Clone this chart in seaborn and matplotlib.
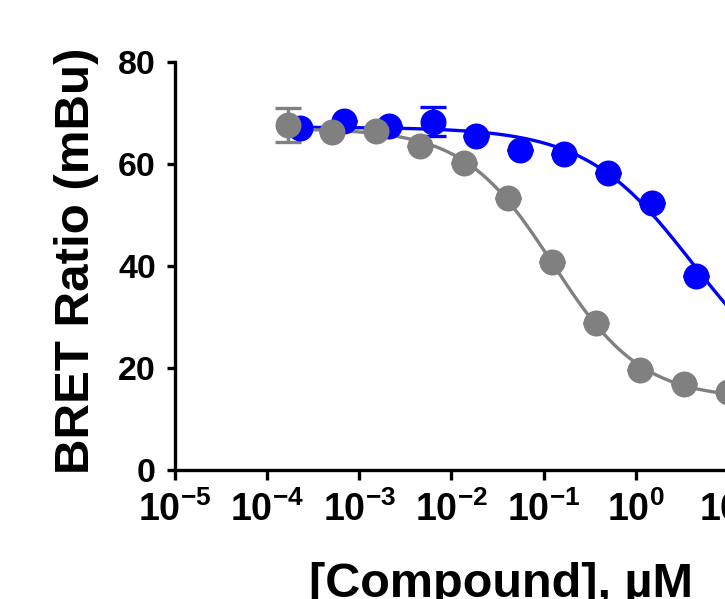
import numpy as np
import pandas as pd
import seaborn as sns
import matplotlib.pyplot as plt
from matplotlib.ticker import NullLocator


# (concentration in uM, BRET ratio in mBu)
gray_conc = [1.7e-4, 5.1e-4, 1.52e-3, 4.57e-3, 0.0137, 0.0412, 0.123, 0.370, 1.11, 3.33, 10.0]
gray_bret = [67.6, 66.2, 66.5, 63.5, 60.1, 53.3, 40.7, 28.8, 19.6, 16.8, 15.2]
gray_err = [3.3, 0, 0, 0, 0, 0, 0, 0, 0, 0, 0]

blue_conc = [2.3e-4, 6.9e-4, 2.08e-3, 6.24e-3, 0.0187, 0.056, 0.168, 0.505, 1.52, 4.55]
blue_bret = [67.0, 68.5, 67.5, 68.3, 65.4, 62.7, 62.0, 58.2, 52.3, 38.1]
blue_err = [0, 0, 0, 2.9, 0, 0, 0, 0, 0, 0]

x_exponents = [-5, -4, -3, -2, -1, 0, 1, 2]
x_ticklabels = [r"$\mathbf{10^{%d}}$" % e for e in x_exponents]
y_ticks = [0, 20, 40, 60, 80]

BLUE = "#0000FF"
GRAY = "#808080"


def fit_dose_response(conc, resp, bottom=None):
    # 4PL fit: grid over logIC50 / hill, top & bottom solved linearly
    logx = np.log10(np.asarray(conc))
    y = np.asarray(resp)
    cs = np.arange(-3.0, 3.0, 0.005)
    hs = np.arange(0.3, 3.0, 0.01)
    C, H = np.meshgrid(cs, hs)
    s = 1.0 / (1.0 + 10 ** (H[..., None] * (logx - C[..., None])))
    if bottom is None:
        u = 1 - s
        suu, svv, suv = (u * u).sum(-1), (s * s).sum(-1), (u * s).sum(-1)
        suy, svy = (u * y).sum(-1), (s * y).sum(-1)
        det = suu * svv - suv**2
        b = (svv * suy - suv * svy) / det
        t = (suu * svy - suv * suy) / det
    else:
        b = np.full(C.shape, bottom)
        t = b + ((y - bottom) * s).sum(-1) / (s * s).sum(-1)
    pred = b[..., None] + (t - b)[..., None] * s
    sse = ((pred - y) ** 2).sum(-1)
    i = np.unravel_index(np.argmin(sse), sse.shape)
    return {"bottom": b[i], "top": t[i], "logec50": C[i], "hill": H[i]}


def curve_frame(conc, p, x_end=2.0):
    xs = np.linspace(np.log10(min(conc)), x_end, 300)
    ys = p["bottom"] + (p["top"] - p["bottom"]) / (
        1 + 10 ** (p["hill"] * (xs - p["logec50"]))
    )
    return pd.DataFrame({"conc": 10**xs, "bret": ys})


gray_fit = fit_dose_response(gray_conc, gray_bret)
blue_fit = fit_dose_response(blue_conc, blue_bret, bottom=gray_fit["bottom"])

sns.set_style("ticks")
plt.rcParams["font.family"] = ["Liberation Sans", "DejaVu Sans"]
plt.rcParams["font.weight"] = "bold"
plt.rcParams["mathtext.fontset"] = "custom"
plt.rcParams["mathtext.rm"] = "Liberation Sans:bold"
plt.rcParams["mathtext.bf"] = "Liberation Sans:bold"
for key in ["text.color", "axes.labelcolor", "axes.edgecolor",
            "xtick.color", "ytick.color"]:
    plt.rcParams[key] = "black"

fig = plt.figure(figsize=(7.25, 5.99), dpi=100)
ax = fig.add_axes([175 / 725, 129 / 599, 645 / 725, 408 / 599])
ax.set_xscale("log")

for conc, bret, err, fit, col in [
    (blue_conc, blue_bret, blue_err, blue_fit, BLUE),
    (gray_conc, gray_bret, gray_err, gray_fit, GRAY),
]:
    df = curve_frame(conc, fit)
    sns.lineplot(data=df, x="conc", y="bret", color=col, linewidth=2.4,
                 estimator=None, sort=False, ax=ax, zorder=2)
    ax.errorbar(conc, bret, yerr=err, fmt="none", ecolor=col,
                elinewidth=2.4, capsize=9.4, capthick=2.4, zorder=2)
    sns.scatterplot(x=conc, y=bret, color=col, s=350, linewidth=0,
                    ax=ax, zorder=3)

ax.set_xlim(1e-5, 1e2)
ax.set_ylim(0, 80)
ax.set_xticks([10.0**e for e in x_exponents])
ax.set_xticklabels(x_ticklabels, fontsize=27)
ax.xaxis.set_minor_locator(NullLocator())
ax.set_yticks(y_ticks)
ax.set_yticklabels([str(v) for v in y_ticks], fontsize=24.5, fontweight="bold")

sns.despine(ax=ax)
for side in ["left", "bottom"]:
    ax.spines[side].set_linewidth(2.4)
ax.tick_params(axis="x", length=7.2, width=2.4, pad=8)
ax.tick_params(axis="y", length=5.8, width=2.4, pad=8)

ax.set_xlabel("[Compound], µM", fontsize=35, fontweight="bold")
ax.set_ylabel("BRET Ratio (mBu)", fontsize=35.5, fontweight="bold")
ax.xaxis.set_label_coords(0.505, -0.225)
ax.yaxis.set_label_coords(-0.118, 0.512)

fig.savefig("out.png", dpi=100)
